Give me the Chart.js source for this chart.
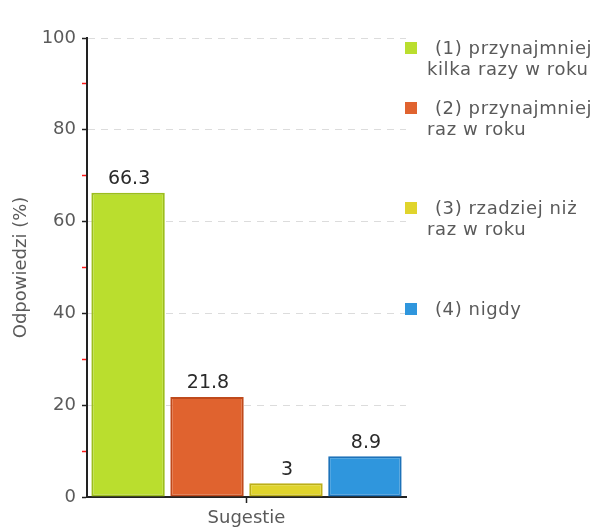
<!DOCTYPE html>
<html>
<head>
<meta charset="utf-8">
<script src="https://cdn.jsdelivr.net/npm/chart.js@4"></script>
<style>
  body { margin: 0; background: #fff; }
  #wrap { position: relative; width: 605px; height: 529px; }
  #legend { position: absolute; left: 0; top: 0; }
  .item {
    position: absolute; left: 427px; width: 178px;
    font: 18px 'DejaVu Sans', sans-serif; color: #5a5a5a;
    line-height: 21px; white-space: nowrap; letter-spacing: 0.6px;
  }
  .item span.box {
    position: absolute; left: -22px; top: 5px;
    width: 12px; height: 12px;
  }
  .item span.first { padding-left: 8px; }
</style>
</head>
<body>
<div id="wrap">
  <canvas id="chart" width="605" height="529"></canvas>
  <div id="legend"></div>
</div>
<script>
// Chart data
const category = ['Sugestie'];
const seriesLabels = [
  ['(1) przynajmniej', 'kilka razy w roku'],
  ['(2) przynajmniej', 'raz w roku'],
  ['(3) rzadziej niż', 'raz w roku'],
  ['(4) nigdy']
];
const seriesValues = [66.3, 21.8, 3, 8.9];
const fillColors = ['#bade2e', '#e0632f', '#e0d42c', '#2f96dd'];
const edgeColors = ['#9cbe1c', '#bf4a1c', '#bcae18', '#1d72b9'];
const legendTops = [37, 97, 197, 298];

// Build the html legend on the right
const legend = document.getElementById('legend');
seriesLabels.forEach(function(lines, i) {
  const div = document.createElement('div');
  div.className = 'item';
  div.style.top = legendTops[i] + 'px';
  const box = document.createElement('span');
  box.className = 'box';
  box.style.background = fillColors[i];
  div.appendChild(box);
  lines.forEach(function(line, j) {
    const span = document.createElement('span');
    if (j === 0) span.className = 'first';
    span.textContent = line;
    div.appendChild(span);
    div.appendChild(document.createElement('br'));
  });
  legend.appendChild(div);
});

// Value labels above each bar
const valueLabels = {
  id: 'valueLabels',
  afterDatasetsDraw(chart) {
    const ctx = chart.ctx;
    ctx.save();
    ctx.font = "19px 'DejaVu Sans', sans-serif";
    ctx.fillStyle = '#2a2a2a';
    ctx.textAlign = 'center';
    ctx.textBaseline = 'bottom';
    chart.data.datasets.forEach(function(ds, i) {
      const bar = chart.getDatasetMeta(i).data[0];
      ctx.fillText(String(ds.data[0]), bar.x + 1, bar.y - 4);
    });
    ctx.restore();
  }
};

const datasets = seriesLabels.map(function(lines, i) {
  return {
    label: lines.join(' '),
    data: [seriesValues[i]],
    backgroundColor: fillColors[i],
    borderColor: edgeColors[i],
    borderWidth: 2,
    borderSkipped: false,
    categoryPercentage: 0.99,
    barPercentage: 0.93
  };
});

new Chart(document.getElementById('chart'), {
  type: 'bar',
  data: { labels: category, datasets: datasets },
  options: {
    responsive: false,
    animation: false,
    layout: { padding: { top: 38, right: 199, left: 0, bottom: 0 } },
    plugins: {
      legend: { display: false },
      tooltip: { enabled: false }
    },
    scales: {
      x: {
        afterFit: function(scale) { scale.height = 32; },
        grid: {
          offset: false,
          drawOnChartArea: false,
          tickLength: 6,
          tickColor: '#222',
          tickWidth: 1.5
        },
        border: { color: '#222', width: 2 },
        ticks: { display: false },
        title: {
          display: true,
          text: 'Sugestie',
          color: '#5a5a5a',
          font: { family: "'DejaVu Sans', sans-serif", size: 18 },
          padding: { top: 0, bottom: 0 }
        }
      },
      y: {
        min: 0,
        max: 100,
        afterFit: function(scale) { scale.width = 87; },
        ticks: {
          stepSize: 10,
          color: '#5a5a5a',
          padding: 6,
          font: { family: "'DejaVu Sans', sans-serif", size: 18 },
          callback: function(v) { return v % 20 === 0 ? v : ''; }
        },
        grid: {
          tickLength: 5,
          tickWidth: 1.5,
          color: function(c) {
            const v = c.tick.value;
            return (v % 20 !== 0 || v === 0) ? 'rgba(0,0,0,0)' : '#dcdcdc';
          },
          tickColor: function(c) {
            return c.tick.value % 20 === 0 ? '#222' : '#ff1a1a';
          }
        },
        border: { color: '#222', width: 2, dash: [7, 6] },
        title: {
          display: true,
          text: 'Odpowiedzi (%)',
          color: '#5a5a5a',
          font: { family: "'DejaVu Sans', sans-serif", size: 18 },
          padding: { top: 11, bottom: 6 }
        }
      }
    }
  },
  plugins: [valueLabels]
});
</script>
</body>
</html>
